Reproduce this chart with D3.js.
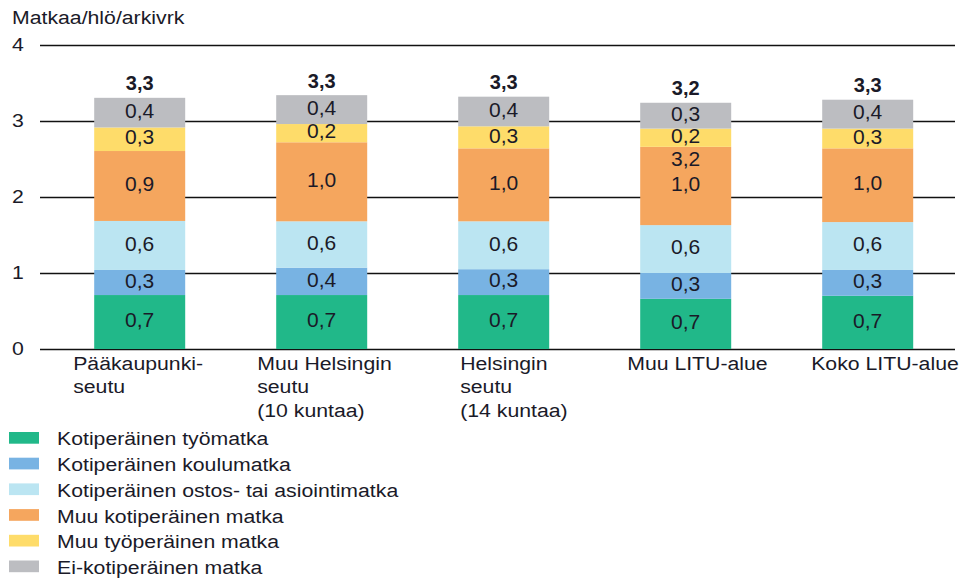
<!DOCTYPE html>
<html>
<head>
<meta charset="utf-8">
<script src="https://cdn.jsdelivr.net/npm/d3@7"></script>
<style>
  html, body { margin: 0; padding: 0; background: #fff; }
  svg { display: block; font-family: "Liberation Sans", Arial, sans-serif; }
  text { fill: #1a1a28; }
</style>
</head>
<body>
<div id="chart"></div>
<script>
// data (matkaa / hlö / arkivrk)
const regions = ["Pääkaupunkiseutu", "Muu Helsingin seutu", "Helsingin seutu", "Muu LITU-alue", "Koko LITU-alue"];
const regionLines = [["Pääkaupunki-", "seutu"], ["Muu Helsingin", "seutu", "(10 kuntaa)"], ["Helsingin", "seutu", "(14 kuntaa)"], ["Muu LITU-alue"], ["Koko LITU-alue"]];
const seriesNames = ["Kotiperäinen työmatka", "Kotiperäinen koulumatka", "Kotiperäinen ostos- tai asiointimatka", "Muu kotiperäinen matka", "Muu työperäinen matka", "Ei-kotiperäinen matka"];
const tyomatka    = [0.71, 0.71, 0.71, 0.66, 0.70];
const koulumatka  = [0.33, 0.36, 0.34, 0.34, 0.34];
const ostosmatka  = [0.645, 0.61, 0.63, 0.63, 0.63];
const muuKoti     = [0.92, 1.04, 0.96, 1.03, 0.97];
const muuTyo      = [0.31, 0.24, 0.29, 0.24, 0.26];
const eiKoti      = [0.39, 0.38, 0.39, 0.34, 0.38];
const yTicks = [0, 1, 2, 3, 4];
// stray "3,2" label that sits in the orange block of Muu LITU-alue
const strayLabel = { region: "Muu LITU-alue", text: "3,2" };

const colors = ["#21b889", "#78b3e3", "#bbe5f2", "#f5a65e", "#fedc6a", "#bcbdc1"];
const seriesValues = [tyomatka, koulumatka, ostosmatka, muuKoti, muuTyo, eiKoti];
const labelShift = [-21, -19, 2, -13, -11];

const width = 962, height = 578;
const svg = d3.select("#chart").append("svg").attr("width", width).attr("height", height);

const fmt = v => d3.format(".1f")(v).replace(".", ",");
const table = regions.map((r, i) => {
  const row = { region: r };
  seriesNames.forEach((s, j) => row[s] = seriesValues[j][i]);
  return row;
});

const x = d3.scaleBand().domain(regions).range([48.7, 958.7]).paddingInner(0.5).paddingOuter(0.25);
const y = d3.scaleLinear().domain([0, 4]).range([349, 45]);

// grid / y axis
const yAxis = svg.append("g").attr("transform", "translate(40,0)")
  .call(d3.axisLeft(y).tickValues(yTicks).tickFormat(d3.format("d")).tickSize(-915).tickPadding(0));
yAxis.select(".domain").remove();
yAxis.selectAll(".tick line").attr("stroke", "#111").attr("stroke-width", 1.4);
yAxis.selectAll(".tick text").attr("x", -28).attr("dy", "0.33em").attr("text-anchor", "start")
  .attr("fill", null).style("font-size", "18px").attr("class", "wide");

svg.append("text").attr("x", 12).attr("y", 24).style("font-size", "18px").attr("class", "wide").text("Matkaa/hlö/arkivrk");

// stacked bars
const stacked = d3.stack().keys(seriesNames)(table);
const layers = svg.selectAll("g.layer").data(stacked).join("g").attr("class", "layer")
  .attr("fill", (d, i) => colors[i]);
layers.selectAll("rect").data(d => d).join("rect")
  .attr("x", d => x(d.data.region))
  .attr("width", x.bandwidth())
  .attr("y", d => y(d[1]))
  .attr("height", d => y(d[0]) - y(d[1]));

layers.selectAll("text").data(d => d).join("text")
  .attr("x", d => x(d.data.region) + x.bandwidth() / 2)
  .attr("y", d => (y(d[0]) + y(d[1])) / 2)
  .attr("dy", "0.25em")
  .attr("text-anchor", "middle")
  .style("font-size", "21px")
  .text(d => fmt(d[1] - d[0]));

const orange = stacked[3].find(d => d.data.region === strayLabel.region);
svg.append("text")
  .attr("x", x(strayLabel.region) + x.bandwidth() / 2)
  .attr("y", (y(orange[0]) + y(orange[1])) / 2)
  .attr("dy", "-0.95em")
  .attr("text-anchor", "middle")
  .style("font-size", "21px")
  .text(strayLabel.text);

// totals
const topLayer = stacked[stacked.length - 1];
svg.selectAll("text.total").data(topLayer).join("text").attr("class", "total")
  .attr("x", d => x(d.data.region) + x.bandwidth() / 2)
  .attr("y", d => y(d[1]) - 7.6)
  .attr("text-anchor", "middle")
  .style("font-size", "20px").style("font-weight", "bold")
  .text(d => fmt(d[1]));

// category labels
regions.forEach((r, i) => {
  regionLines[i].forEach((line, k) => {
    svg.append("text").attr("class", "wide")
      .attr("x", x(r) + labelShift[i])
      .attr("y", 370 + k * 23.4)
      .style("font-size", "18px")
      .text(line);
  });
});

// legend
const legend = svg.append("g").attr("transform", "translate(9,432)");
const items = legend.selectAll("g").data(seriesNames).join("g")
  .attr("transform", (d, i) => `translate(0,${i * 25.7})`);
items.append("rect").attr("width", 30).attr("height", 11.7).attr("fill", (d, i) => colors[i]);
items.append("text").attr("class", "wide").attr("x", 48).attr("y", 13.4)
  .style("font-size", "18px").text(d => d);

// the source picture is stretched sideways
svg.selectAll("text.wide").each(function() {
  const w = this.getComputedTextLength();
  this.setAttribute("textLength", w * 1.18);
  this.setAttribute("lengthAdjust", "spacingAndGlyphs");
});
</script>
</body>
</html>
